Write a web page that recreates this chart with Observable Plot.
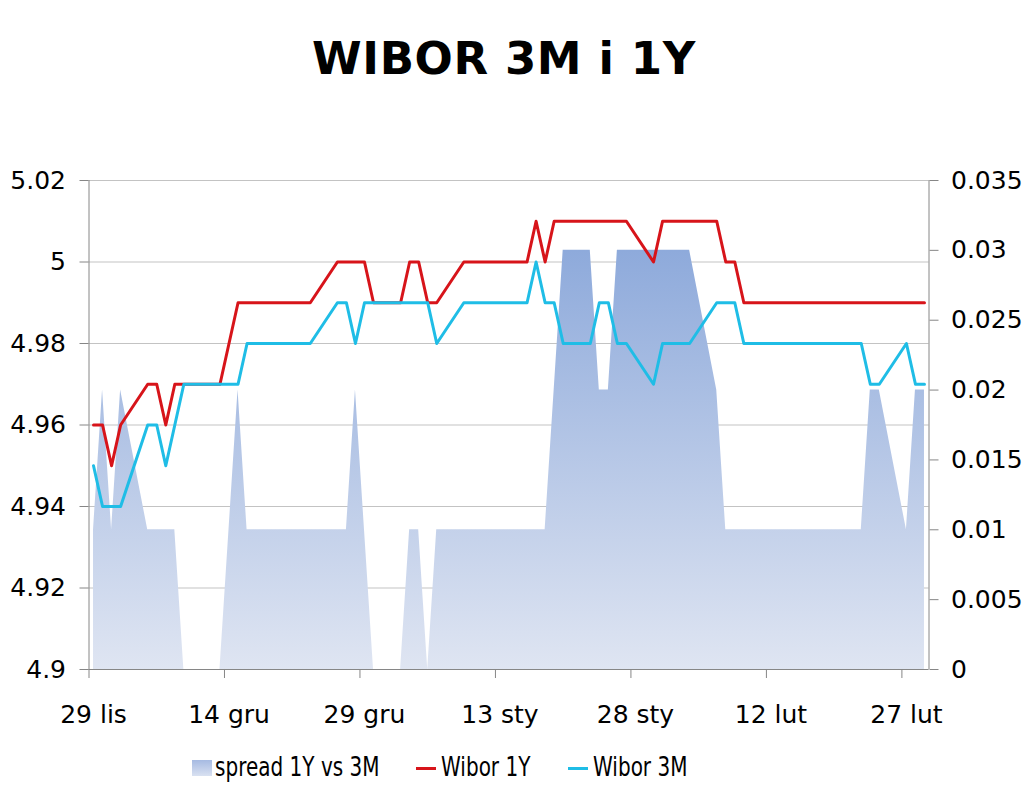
<!DOCTYPE html>
<html>
<head>
<meta charset="utf-8">
<script src="https://cdn.jsdelivr.net/npm/d3@7"></script>
<script src="https://cdn.jsdelivr.net/npm/@observablehq/plot@0.6"></script>
<style>
  html, body { margin: 0; padding: 0; background: #fff; width: 1024px; height: 791px; overflow: hidden; }
  #title { position: absolute; left: 0; top: 36px; width: 1008px; text-align: center;
    font-family: "DejaVu Sans", sans-serif; font-weight: bold; font-size: 45px; line-height: 1; letter-spacing: 0.6px; color: #000; }
  #chart { position: absolute; left: 0; top: 150px; }
  .leg { position: absolute; font-family: "DejaVu Sans", sans-serif; font-size: 26px; line-height: 1; color: #000; white-space: nowrap;
    transform: scaleX(0.77); transform-origin: 0 0; }
  .sw { position: absolute; }
</style>
</head>
<body>
<div id="title">WIBOR 3M i 1Y</div>
<div id="chart"></div>
<div class="sw" style="left:192px; top:760px; width:20px; height:16px; background: linear-gradient(#a6bae2, #d9e1f1);"></div>
<div class="leg" style="left:215px; top:754px;">spread 1Y vs 3M</div>
<div class="sw" style="left:416px; top:767px; width:20px; height:3px; background:#d7141a;"></div>
<div class="leg" style="left:441px; top:754px;">Wibor 1Y</div>
<div class="sw" style="left:568px; top:767px; width:20px; height:3px; background:#1fbde6;"></div>
<div class="leg" style="left:593px; top:754px;">Wibor 3M</div>
<script>
// ---- data ----
const dates = [
  "2011-11-29","2011-11-30","2011-12-01","2011-12-02",
  "2011-12-05","2011-12-06","2011-12-07","2011-12-08","2011-12-09",
  "2011-12-12","2011-12-13","2011-12-14","2011-12-15","2011-12-16",
  "2011-12-19","2011-12-20","2011-12-21","2011-12-22","2011-12-23",
  "2011-12-26","2011-12-27","2011-12-28","2011-12-29","2011-12-30",
  "2012-01-02","2012-01-03","2012-01-04","2012-01-05","2012-01-06",
  "2012-01-09","2012-01-10","2012-01-11","2012-01-12","2012-01-13",
  "2012-01-16","2012-01-17","2012-01-18","2012-01-19","2012-01-20",
  "2012-01-23","2012-01-24","2012-01-25","2012-01-26","2012-01-27",
  "2012-01-30","2012-01-31","2012-02-01","2012-02-02","2012-02-03",
  "2012-02-06","2012-02-07","2012-02-08","2012-02-09","2012-02-10",
  "2012-02-13","2012-02-14","2012-02-15","2012-02-16","2012-02-17",
  "2012-02-20","2012-02-21","2012-02-22","2012-02-23","2012-02-24",
  "2012-02-27","2012-02-28","2012-02-29"
];
const wibor1Y = [
  4.96,4.96,4.95,4.96,
  4.97,4.97,4.96,4.97,4.97,
  4.97,4.97,4.98,4.99,4.99,
  4.99,4.99,4.99,4.99,4.99,
  5.00,5.00,5.00,5.00,4.99,
  4.99,5.00,5.00,4.99,4.99,
  5.00,5.00,5.00,5.00,5.00,
  5.00,5.01,5.00,5.01,5.01,
  5.01,5.01,5.01,5.01,5.01,
  5.00,5.01,5.01,5.01,5.01,
  5.01,5.00,5.00,4.99,4.99,
  4.99,4.99,4.99,4.99,4.99,
  4.99,4.99,4.99,4.99,4.99,
  4.99,4.99,4.99
];
const wibor3M = [
  4.95,4.94,4.94,4.94,
  4.96,4.96,4.95,4.96,4.97,
  4.97,4.97,4.97,4.97,4.98,
  4.98,4.98,4.98,4.98,4.98,
  4.99,4.99,4.98,4.99,4.99,
  4.99,4.99,4.99,4.99,4.98,
  4.99,4.99,4.99,4.99,4.99,
  4.99,5.00,4.99,4.99,4.98,
  4.98,4.99,4.99,4.98,4.98,
  4.97,4.98,4.98,4.98,4.98,
  4.99,4.99,4.99,4.98,4.98,
  4.98,4.98,4.98,4.98,4.98,
  4.98,4.98,4.98,4.97,4.97,
  4.98,4.97,4.97
];
const spread = [
  0.01,0.02,0.01,0.02,
  0.01,0.01,0.01,0.01,0,
  0,0,0.01,0.02,0.01,
  0.01,0.01,0.01,0.01,0.01,
  0.01,0.01,0.02,0.01,0,
  0,0.01,0.01,0,0.01,
  0.01,0.01,0.01,0.01,0.01,
  0.01,0.01,0.01,0.02,0.03,
  0.03,0.02,0.02,0.03,0.03,
  0.03,0.03,0.03,0.03,0.03,
  0.02,0.01,0.01,0.01,0.01,
  0.01,0.01,0.01,0.01,0.01,
  0.01,0.01,0.01,0.02,0.02,
  0.01,0.02,0.02
];
const xDomain = ["2011-11-29", "2012-03-01"];
const xTickDates = ["2011-11-29","2011-12-14","2011-12-29","2012-01-13","2012-01-28","2012-02-12","2012-02-27"];
const xTickLabels = ["29 lis","14 gru","29 gru","13 sty","28 sty","12 lut","27 lut"];
const leftDomain = [4.9, 5.02];
const leftTicks = [4.9, 4.92, 4.94, 4.96, 4.98, 5.0, 5.02];
const leftTickLabels = ["4.9","4.92","4.94","4.96","4.98","5","5.02"];
const rightDomain = [0, 0.035];
const rightTicks = [0, 0.005, 0.01, 0.015, 0.02, 0.025, 0.03, 0.035];
const rightTickLabels = ["0","0.005","0.01","0.015","0.02","0.025","0.03","0.035"];

// ---- build ----
const parse = d3.utcParse("%Y-%m-%d");
const noon = s => d3.utcHour.offset(parse(s), 12);
const rows = dates.map((d, i) => ({date: noon(d), w1y: wibor1Y[i], w3m: wibor3M[i], spread: spread[i]}));
const k = (leftDomain[1] - leftDomain[0]) / (rightDomain[1] - rightDomain[0]);
const toLeft = v => leftDomain[0] + (v - rightDomain[0]) * k;
const rightTickPos = rightTicks.map(toLeft);
const xTickMid = xTickDates.map(parse);
const xTickNoon = xTickDates.map(noon);
const axisGray = "#868686";
const red = "#d7141a";
const cyan = "#1fbde6";

const gradientMark = (index, scales) => {
  const ns = "http://www.w3.org/2000/svg";
  const defs = document.createElementNS(ns, "defs");
  const g = document.createElementNS(ns, "linearGradient");
  g.setAttribute("id", "spreadGrad");
  g.setAttribute("gradientUnits", "userSpaceOnUse");
  g.setAttribute("x1", 0); g.setAttribute("x2", 0);
  g.setAttribute("y1", scales.y(toLeft(0.03)));
  g.setAttribute("y2", scales.y(leftDomain[0]));
  [["0", "#8eaadb"], ["1", "#dfe5f2"]].forEach(([o, c]) => {
    const s = document.createElementNS(ns, "stop");
    s.setAttribute("offset", o); s.setAttribute("stop-color", c);
    g.appendChild(s);
  });
  defs.appendChild(g);
  return defs;
};

const chart = Plot.plot({
  width: 1024,
  height: 590,
  marginTop: 30,
  marginBottom: 71,
  marginLeft: 88.5,
  marginRight: 95.5,
  style: {fontFamily: "'DejaVu Sans', sans-serif", fontSize: "25px", color: "#000", background: "#fff", overflow: "visible"},
  x: {type: "utc", domain: xDomain.map(parse)},
  y: {domain: leftDomain},
  marks: [
    gradientMark,
    Plot.gridY(leftTicks, {stroke: "#c3c3c3", strokeOpacity: 1, strokeWidth: 1}),
    Plot.areaY(rows, {x: "date", y1: () => leftDomain[0], y2: d => toLeft(d.spread), fill: "url(#spreadGrad)", curve: "linear"}),
    Plot.line(rows, {x: "date", y: "w1y", stroke: red, strokeWidth: 3}),
    Plot.line(rows, {x: "date", y: "w3m", stroke: cyan, strokeWidth: 3}),
    Plot.ruleX([parse(xDomain[0]), parse(xDomain[1])], {stroke: axisGray, strokeWidth: 1}),
    Plot.ruleY([leftDomain[0]], {stroke: axisGray, strokeWidth: 1}),
    Plot.axisY(leftTicks, {anchor: "left", tickSize: 9, tickPadding: 14, stroke: axisGray, fill: "#000", fontSize: 25,
      tickFormat: d => leftTickLabels[leftTicks.indexOf(d)]}),
    Plot.axisY(rightTickPos, {anchor: "right", tickSize: 9, tickPadding: 13, stroke: axisGray, fill: "#000", fontSize: 25,
      tickFormat: d => rightTickLabels[rightTickPos.indexOf(d)]}),
    Plot.axisX(xTickMid, {tickSize: 9, stroke: axisGray, tickFormat: () => ""}),
    Plot.axisX(xTickNoon, {tickSize: 0, tickPadding: 36, fill: "#000", fontSize: 25,
      tickFormat: d => xTickLabels[xTickNoon.findIndex(t => +t === +d)]})
  ]
});
document.getElementById("chart").appendChild(chart);
</script>
</body>
</html>
